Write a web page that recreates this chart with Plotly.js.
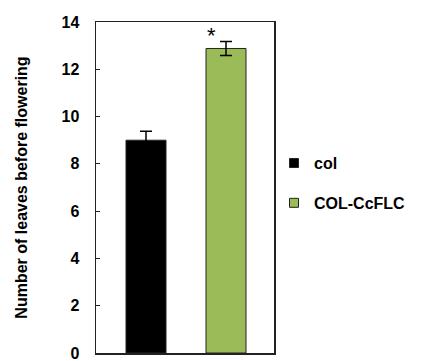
<!DOCTYPE html>
<html><head><meta charset="utf-8">
<script src="https://cdn.plot.ly/plotly-3.0.1.min.js"></script>
<style>html,body{margin:0;padding:0;background:#fff;}#c{width:421px;height:361px;}</style>
</head><body><div id="c"></div>
<script>
var categories = ["col", "COL-CcFLC"];
var values = [9.0, 12.88];
var errors = [0.38, 0.3];
var colors = ["#000000", "#9BBB59"];
var yTicks = [0, 2, 4, 6, 8, 10, 12, 14];
var sigMarks = ["", "*"];

var F = "Liberation Sans, Arial, sans-serif";
var traces = [];
categories.forEach(function (c, i) {
  traces.push({
    type: "bar", x: [i], y: [values[i]], name: c, width: 0.5, showlegend: false,
    marker: {color: colors[i], line: {color: "#222", width: 1}},
    error_y: {type: "data", array: [errors[i]], visible: true, color: "#000", thickness: 1.5, width: 6}
  });
});
categories.forEach(function (c, i) {
  traces.push({
    type: "scatter", mode: "markers", x: [null], y: [null], name: c, legendgroup: c,
    marker: {symbol: "square", size: 9, color: colors[i], line: {color: "#222", width: 1}}
  });
});
var annotations = [];
sigMarks.forEach(function (s, i) {
  if (s) annotations.push({x: i - 0.18, y: values[i] + errors[i], xref: "x", yref: "y", text: s, showarrow: false,
    yanchor: "bottom", yshift: -9, font: {family: F, size: 22, color: "#000"}});
});
var layout = {
  width: 421, height: 361,
  margin: {l: 96, r: 147, t: 22, b: 8},
  paper_bgcolor: "#fff", plot_bgcolor: "#fff",
  showlegend: true,
  legend: {x: 1.0, xanchor: "left", y: 0.625, yanchor: "top", tracegroupgap: 16, traceorder: "grouped",
    font: {family: F, size: 16, color: "#000", weight: "bold"}, bgcolor: "rgba(0,0,0,0)"},
  xaxis: {range: [-0.625, 1.6], showticklabels: false, ticks: "", showgrid: false, zeroline: false,
    showline: true, linecolor: "#222", linewidth: 1.5, mirror: true, fixedrange: true},
  yaxis: {range: [0, 14], tickvals: yTicks, ticks: "inside", ticklen: 4, tickcolor: "#222",
    ticklabelstandoff: 12, ticklabeloverflow: "allow",
    showgrid: false, zeroline: false, showline: true, linecolor: "#222", linewidth: 1.5, mirror: true,
    tickfont: {family: F, size: 16, color: "#000", weight: "bold"},
    title: {text: "Number of leaves before flowering", standoff: 30,
      font: {family: F, size: 16, color: "#000", weight: "bold"}}},
  annotations: annotations
};
Plotly.newPlot("c", traces, layout, {displayModeBar: false, staticPlot: true});
</script></body></html>
